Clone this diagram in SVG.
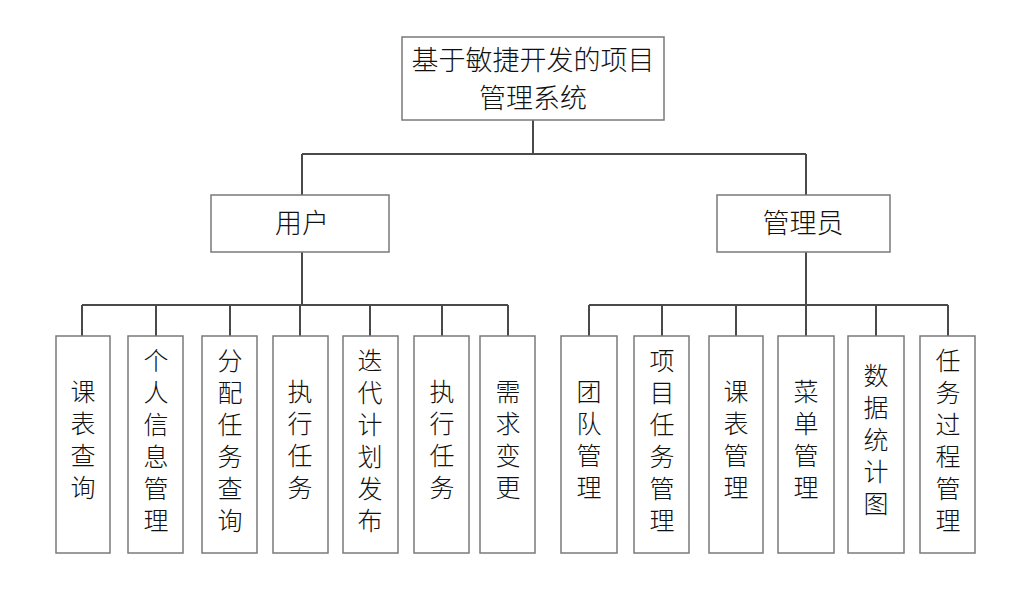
<svg xmlns="http://www.w3.org/2000/svg" width="1024" height="594" viewBox="0 0 1024 594">
<style>
rect{fill:#fff;stroke:#7a7a7a;stroke-width:1.5}
.c line,.c path{stroke:#4a4a4a;stroke-width:2;fill:none}
text{font-family:"Noto Sans CJK SC",sans-serif;font-weight:300;font-size:25px;fill:#111;text-anchor:middle}
.big{font-size:27px}
</style>
<g class="c" id="connectors">
<path d="M533 120V154M302 154H806M302 154V195M806 154V195"/>
<path d="M302 252V305M82 305H508M82 305V336M156 305V336M230 305V336M300 305V336M370 305V336M442 305V336M508 305V336"/>
<path d="M806 252V305M589 305H948M589 305V336M662 305V336M736 305V336M806 305V336M876 305V336M948 305V336"/>
</g>
<g id="root"><rect x="402" y="37" width="262" height="83"/><text class="big" x="533" y="70">基于敏捷开发的项目</text><text class="big" x="533" y="108">管理系统</text></g>
<g id="user"><rect x="211" y="195" width="178" height="57"/><text class="big" x="302" y="233">用户</text></g>
<g id="admin"><rect x="717" y="195" width="173" height="57"/><text class="big" x="803" y="233">管理员</text></g>
<g id="l1"><rect x="56" y="336" width="54" height="217"/><text><tspan x="83" y="401">课</tspan><tspan x="83" dy="32">表</tspan><tspan x="83" dy="32">查</tspan><tspan x="83" dy="32">询</tspan></text></g>
<g id="l2"><rect x="128" y="336" width="55" height="217"/><text><tspan x="156" y="370">个</tspan><tspan x="156" dy="32">人</tspan><tspan x="156" dy="32">信</tspan><tspan x="156" dy="32">息</tspan><tspan x="156" dy="32">管</tspan><tspan x="156" dy="32">理</tspan></text></g>
<g id="l3"><rect x="202" y="336" width="55" height="217"/><text><tspan x="230" y="370">分</tspan><tspan x="230" dy="32">配</tspan><tspan x="230" dy="32">任</tspan><tspan x="230" dy="32">务</tspan><tspan x="230" dy="32">查</tspan><tspan x="230" dy="32">询</tspan></text></g>
<g id="l4"><rect x="273" y="336" width="55" height="217"/><text><tspan x="300" y="401">执</tspan><tspan x="300" dy="32">行</tspan><tspan x="300" dy="32">任</tspan><tspan x="300" dy="32">务</tspan></text></g>
<g id="l5"><rect x="343" y="336" width="55" height="217"/><text><tspan x="370" y="370">迭</tspan><tspan x="370" dy="32">代</tspan><tspan x="370" dy="32">计</tspan><tspan x="370" dy="32">划</tspan><tspan x="370" dy="32">发</tspan><tspan x="370" dy="32">布</tspan></text></g>
<g id="l6"><rect x="414" y="336" width="55" height="217"/><text><tspan x="442" y="401">执</tspan><tspan x="442" dy="32">行</tspan><tspan x="442" dy="32">任</tspan><tspan x="442" dy="32">务</tspan></text></g>
<g id="l7"><rect x="480" y="336" width="55" height="217"/><text><tspan x="508" y="401">需</tspan><tspan x="508" dy="32">求</tspan><tspan x="508" dy="32">变</tspan><tspan x="508" dy="32">更</tspan></text></g>
<g id="r1"><rect x="561" y="336" width="56" height="217"/><text><tspan x="589" y="401">团</tspan><tspan x="589" dy="32">队</tspan><tspan x="589" dy="32">管</tspan><tspan x="589" dy="32">理</tspan></text></g>
<g id="r2"><rect x="634" y="336" width="55" height="217"/><text><tspan x="662" y="370">项</tspan><tspan x="662" dy="32">目</tspan><tspan x="662" dy="32">任</tspan><tspan x="662" dy="32">务</tspan><tspan x="662" dy="32">管</tspan><tspan x="662" dy="32">理</tspan></text></g>
<g id="r3"><rect x="709" y="336" width="54" height="217"/><text><tspan x="736" y="401">课</tspan><tspan x="736" dy="32">表</tspan><tspan x="736" dy="32">管</tspan><tspan x="736" dy="32">理</tspan></text></g>
<g id="r4"><rect x="778" y="336" width="56" height="217"/><text><tspan x="806" y="401">菜</tspan><tspan x="806" dy="32">单</tspan><tspan x="806" dy="32">管</tspan><tspan x="806" dy="32">理</tspan></text></g>
<g id="r5"><rect x="848" y="336" width="56" height="217"/><text><tspan x="876" y="385">数</tspan><tspan x="876" dy="32">据</tspan><tspan x="876" dy="32">统</tspan><tspan x="876" dy="32">计</tspan><tspan x="876" dy="32">图</tspan></text></g>
<g id="r6"><rect x="920" y="336" width="55" height="217"/><text><tspan x="948" y="370">任</tspan><tspan x="948" dy="32">务</tspan><tspan x="948" dy="32">过</tspan><tspan x="948" dy="32">程</tspan><tspan x="948" dy="32">管</tspan><tspan x="948" dy="32">理</tspan></text></g>
</svg>
